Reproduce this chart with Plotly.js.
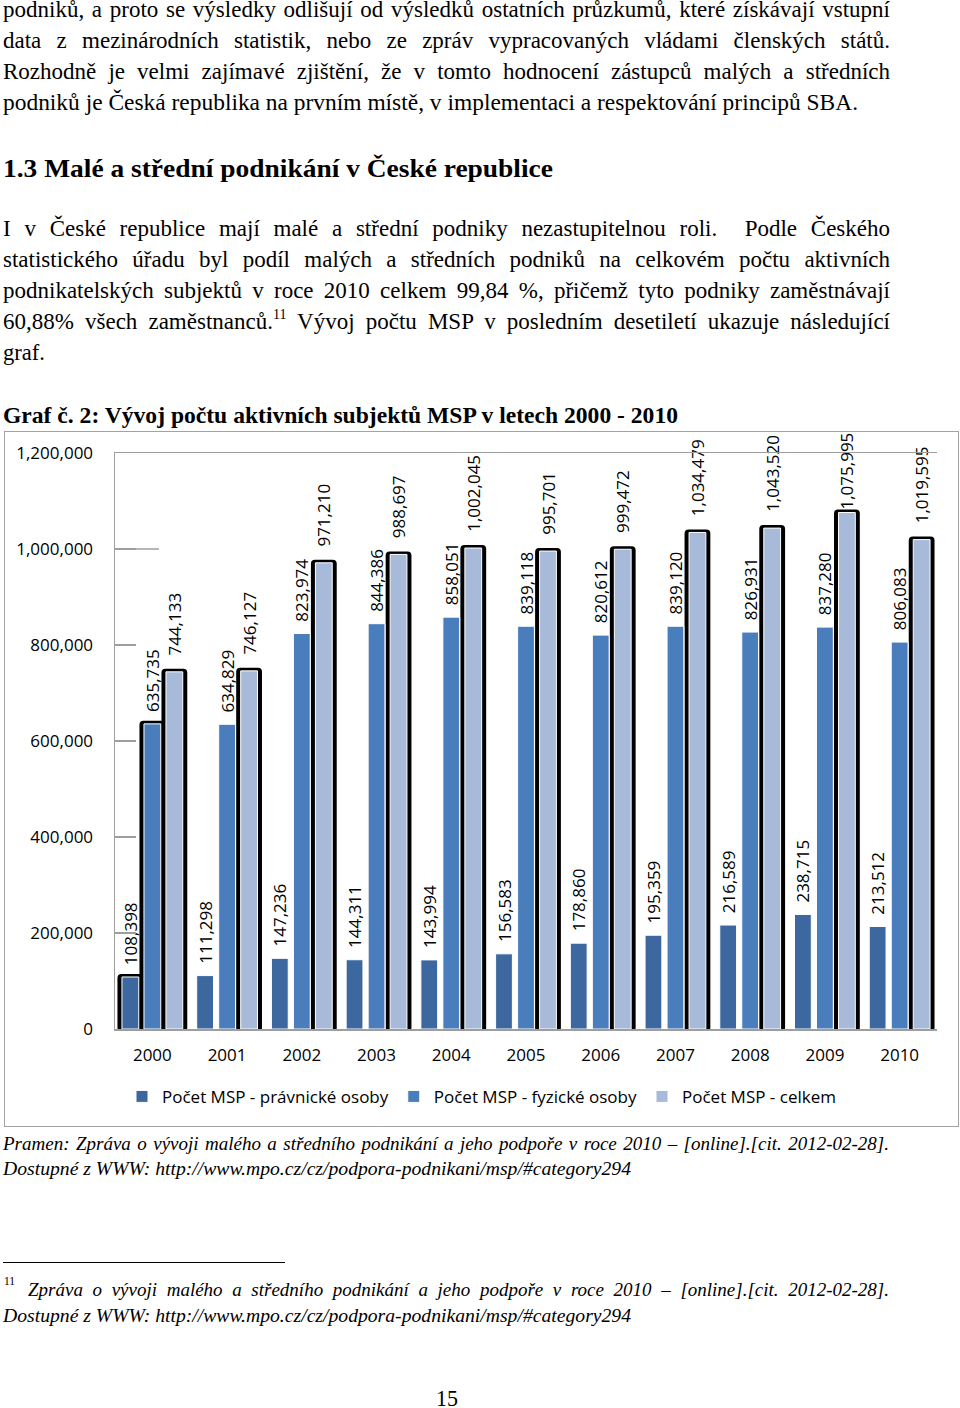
<!DOCTYPE html>
<html>
<head>
<meta charset="utf-8">
<script src="https://cdn.plot.ly/plotly-3.0.1.min.js"></script>
<style>
  html, body { margin: 0; padding: 0; background: #fff; }
  body { width: 960px; height: 1408px; position: relative; overflow: hidden; }
  .ln { position: absolute; white-space: nowrap; font-family: 'Liberation Serif', 'Times New Roman', serif; color: #000; line-height: 1; transform-origin: 0 0; }
  #chart { position: absolute; left: 5px; top: 432px; width: 953px; height: 694px; }
  #frame { position: absolute; left: 4px; top: 431px; width: 955px; height: 696px; box-sizing: border-box; border: 1.5px solid #a3a3a3; pointer-events: none; }
  #rule { position: absolute; left: 3px; top: 1262px; width: 282px; height: 0; border-top: 1.3px solid #000; }
</style>
</head>
<body>
<div id="chart"></div>
<div id="frame"></div>
<div id="rule"></div>
<script>
// ---------------- chart data ----------------
const years = ['2000', '2001', '2002', '2003', '2004', '2005', '2006', '2007', '2008', '2009', '2010'];
const pravnicke = [108398, 111298, 147236, 144311, 143994, 156583, 178860, 195359, 216589, 238715, 213512];
const fyzicke   = [635735, 634829, 823974, 844386, 858051, 839118, 820612, 839120, 826931, 837280, 806083];
const celkem    = [744133, 746127, 971210, 988697, 1002045, 995701, 999472, 1034479, 1043520, 1075995, 1019595];
const seriesNames = ['Počet MSP - právnické osoby', 'Počet MSP - fyzické osoby', 'Počet MSP - celkem'];
const yTickVals = [0, 200000, 400000, 600000, 800000, 1000000, 1200000];

// ---------------- page text ----------------
const lines = [
  {t: 'podniků, a proto se výsledky odlišují od výsledků ostatních průzkumů, které získávají vstupní', x: 3, r: 890, b: 17.5, fs: 23, j: true},
  {t: 'data z mezinárodních statistik, nebo ze zpráv vypracovaných vládami členských států.', x: 3, r: 890, b: 48.5, fs: 23, j: true},
  {t: 'Rozhodně je velmi zajímavé zjištění, že v&nbsp;tomto hodnocení zástupců malých a středních', x: 3, r: 890, b: 79.5, fs: 23, j: true},
  {t: 'podniků je Česká republika na prvním místě, v implementaci a respektování principů SBA.', x: 3, r: 858, b: 110.5, fs: 23},
  {t: '1.3 Malé a střední podnikání v České republice', x: 3, r: 553, b: 177.5, fs: 26, bold: true},
  {t: 'I v&nbsp;České republice mají malé a střední podniky nezastupitelnou roli. &nbsp;Podle Českého', x: 3, r: 890, b: 236.5, fs: 23, j: true},
  {t: 'statistického úřadu byl podíl malých a středních podniků na celkovém počtu aktivních', x: 3, r: 890, b: 267.5, fs: 23, j: true},
  {t: 'podnikatelských subjektů v roce 2010 celkem 99,84 %, přičemž tyto podniky zaměstnávají', x: 3, r: 890, b: 298.5, fs: 23, j: true},
  {t: '60,88% všech zaměstnanců.<span style="font-size:14px;position:relative;top:-10px">11</span> Vývoj počtu MSP v&nbsp;posledním desetiletí ukazuje následující', x: 3, r: 890, b: 329.5, fs: 23, j: true},
  {t: 'graf.', x: 3, r: 45, b: 360.5, fs: 23},
  {t: 'Graf č. 2: Vývoj počtu aktivních subjektů MSP v letech 2000 - 2010', x: 3, r: 678, b: 423, fs: 23, bold: true},
  {t: 'Pramen: Zpráva o vývoji malého a středního podnikání a jeho podpoře v roce 2010 – [online].[cit. 2012-02-28].', x: 3, r: 889, b: 1149.5, fs: 19, it: true, j: true},
  {t: 'Dostupné z WWW: http://www.mpo.cz/cz/podpora-podnikani/msp/#category294', x: 3, r: 631, b: 1175, fs: 19, it: true},
  {t: '11', x: 4, r: 15, b: 1285, fs: 13},
  {t: 'Zpráva o vývoji malého a středního podnikání a jeho podpoře v&nbsp;roce 2010 – [online].[cit. 2012-02-28].', x: 28, r: 889, b: 1296, fs: 19, it: true, j: true},
  {t: 'Dostupné z WWW: http://www.mpo.cz/cz/podpora-podnikani/msp/#category294', x: 3, r: 631, b: 1321.5, fs: 19, it: true},
  {t: '15', x: 436, r: 458, b: 1406, fs: 23}
];

function layoutText() {
  lines.forEach(function (L) {
    const d = document.createElement('div');
    d.className = 'ln';
    d.innerHTML = L.t;
    d.style.fontSize = L.fs + 'px';
    d.style.left = L.x + 'px';
    d.style.top = (L.b - 0.8375 * L.fs) + 'px';
    if (L.bold) d.style.fontWeight = 'bold';
    if (L.it) d.style.fontStyle = 'italic';
    document.body.appendChild(d);
    const w = d.getBoundingClientRect().width;
    const target = L.r - L.x;
    const spaces = (d.textContent.match(/[ \u00a0]/g) || []).length;
    if (L.j && w < target && spaces > 0) {
      d.style.wordSpacing = ((target - w) / spaces) + 'px';
    } else if (w > 0) {
      d.style.transform = 'scaleX(' + (target / w) + ')';
    }
  });
}

// ---------------- chart ----------------
const plotW = 822, plotH = 576, marginT = 21, labelFs = 17;
const U = plotW / years.length;           // px per category
const V = 1200000 / plotH;                // value per px
const bw = 16.8 / U;                      // bar width (category units)
const centers = [-22 / U, 0, 22 / U];
const offs = centers.map(c => c - bw / 2);
const side = 4.5 / U, topPad = 3 * V, basePad = 2.5 * V;
const colors = ['#3d689f', '#4a7dbb', '#a8bad9'];
const dataSets = [pravnicke, fyzicke, celkem];
const padCount = [2, 2, 3];
const shadowOn = [i => i === 0, i => i === 0, i => true];

// approximate rotated label length, to keep the label inside the chart box
function labelLen(v) {
  const s = v.toLocaleString('en-US');
  return [...s].reduce((a, c) => a + (c === ',' ? 0.26 : 0.572), 0) * labelFs;
}
function templates(vals, k) {
  const padPx = padCount[k] * 0.26 * labelFs;
  return vals.map(function (v) {
    const top = marginT + plotH - v / V - 3 - padPx - labelLen(v);
    const n = top < 0 ? 0 : padCount[k];
    return '\u00a0'.repeat(n) + '%{y:,}';
  });
}

const traces = [];
dataSets.forEach(function (vals, k) {
  traces.push({
    type: 'bar', x: years,
    y: vals.map((v, i) => shadowOn[k](i) ? v + topPad + basePad : null),
    base: -basePad, width: bw + 2 * side, offset: offs[k] - side,
    marker: {color: '#000', cornerradius: 4, line: {width: 0}},
    showlegend: false, hoverinfo: 'skip', cliponaxis: false
  });
});
dataSets.forEach(function (vals, k) {
  traces.push({
    type: 'bar', name: seriesNames[k], x: years, y: vals,
    width: bw, offset: offs[k],
    marker: {color: colors[k], line: {color: '#ffffff', width: 1}},
    texttemplate: templates(vals, k), textposition: 'outside', textangle: -90,
    constraintext: 'none', cliponaxis: false,
    textfont: {family: 'Open Sans, sans-serif', size: labelFs, color: '#000'}
  });
});

const axisGray = '#9e9e9e';
const layout = {
  width: 953, height: 694,
  margin: {l: 110, r: 21, t: marginT, b: 97, pad: 0},
  paper_bgcolor: 'rgba(0,0,0,0)', plot_bgcolor: 'rgba(0,0,0,0)',
  font: {family: 'Open Sans, sans-serif', size: 17, color: '#000'},
  barmode: 'group',
  showlegend: true,
  legend: {orientation: 'h', xref: 'container', yref: 'container', x: 0.5, xanchor: 'center', y: 0.042, yanchor: 'middle',
           font: {size: 17, color: '#000'}, traceorder: 'normal', itemclick: false},
  xaxis: {type: 'category', range: [-0.5, years.length - 0.5], showline: true, mirror: true,
          linecolor: axisGray, linewidth: 1.5, ticks: '', showgrid: false, zeroline: false,
          tickfont: {size: 17}, ticklabelstandoff: 10, fixedrange: true},
  yaxis: {range: [0, 1200000], tickvals: yTickVals, tickformat: ',d', showline: true, linecolor: axisGray, linewidth: 1.5,
          ticks: 'inside', ticklen: 21, tickcolor: axisGray, tickwidth: 1.5, showgrid: false, zeroline: false,
          tickfont: {size: 17}, ticklabelstandoff: 17, fixedrange: true},
  shapes: [{type: 'line', xref: 'x', yref: 'y', x0: -0.5, x1: -0.5 + 44 / U, y0: yTickVals[5], y1: yTickVals[5],
            line: {color: axisGray, width: 1.5}, layer: 'below'}]
};

Plotly.newPlot('chart', traces, layout, {staticPlot: true, displayModeBar: false});

if (document.fonts && document.fonts.ready) {
  document.fonts.load('23px "Liberation Serif"').then(() => document.fonts.ready).then(layoutText, layoutText);
} else {
  layoutText();
}
</script>
</body>
</html>
